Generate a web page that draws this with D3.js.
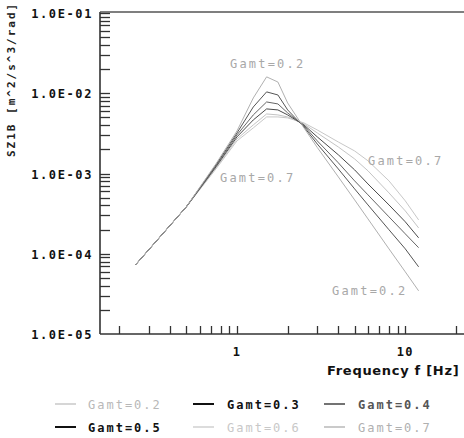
<!DOCTYPE html>
<html>
<head>
<meta charset="utf-8">
<script src="https://cdn.jsdelivr.net/npm/d3@7"></script>
<style>
  html, body { margin: 0; padding: 0; background: #fff; }
  svg { display: block; }
  .mono { font-family: "DejaVu Sans Mono", monospace; }
</style>
</head>
<body>
<svg id="chart" width="464" height="438"></svg>
<script>
const FREQS = [0.25, 0.5, 0.75, 1.0, 1.25, 1.5, 1.75, 2.0, 2.5, 3.0, 4.0, 5.0, 6.0, 8.0, 10.0, 12.0];

const G02 = [7.3e-5, 3.84e-4, 1.32e-3, 3.39e-3, 8.74e-3, 1.60e-2, 1.38e-2, 7.57e-3, 3.70e-3, 2.11e-3, 9.07e-4, 4.69e-4, 2.72e-4, 1.15e-4, 5.95e-5, 3.45e-5];
const G03 = [7.3e-5, 3.84e-4, 1.28e-3, 3.20e-3, 6.75e-3, 1.04e-2, 9.52e-3, 6.20e-3, 3.80e-3, 2.33e-3, 1.14e-3, 6.43e-4, 4.06e-4, 1.99e-4, 1.15e-4, 6.87e-5];
const G04 = [7.3e-5, 3.84e-4, 1.24e-3, 3.03e-3, 5.37e-3, 7.79e-3, 7.36e-3, 5.69e-3, 3.92e-3, 2.55e-3, 1.36e-3, 8.09e-4, 5.42e-4, 2.88e-4, 1.77e-4, 1.19e-4];
const G05 = [7.3e-5, 3.84e-4, 1.21e-3, 2.86e-3, 4.65e-3, 6.38e-3, 6.20e-3, 5.37e-3, 4.03e-3, 2.86e-3, 1.71e-3, 1.11e-3, 7.41e-4, 4.06e-4, 2.50e-4, 1.58e-4];
const G06 = [7.3e-5, 3.84e-4, 1.17e-3, 2.70e-3, 4.03e-3, 5.52e-3, 5.37e-3, 5.07e-3, 4.15e-3, 3.20e-3, 2.14e-3, 1.52e-3, 1.08e-3, 5.73e-4, 3.42e-4, 2.10e-4];
const G07 = [7.3e-5, 3.84e-4, 1.14e-3, 2.55e-3, 3.70e-3, 5.07e-3, 5.07e-3, 4.93e-3, 4.27e-3, 3.49e-3, 2.47e-3, 1.91e-3, 1.44e-3, 8.09e-4, 4.56e-4, 2.64e-4];

const SERIES_NAMES = ["Gamt=0.2", "Gamt=0.3", "Gamt=0.4", "Gamt=0.5", "Gamt=0.6", "Gamt=0.7"];
const SERIES_VALUES = [G02, G03, G04, G05, G06, G07];
const LINE_COLORS = ["#b0b0b0", "#555555", "#666666", "#4a4a4a", "#c4c4c4", "#c8c8c8"];
const LEGEND_TEXT_COLORS = ["#b8b8b8", "#111111", "#555555", "#111111", "#c8c8c8", "#b0b0b0"];
const LEGEND_LINE_COLORS = ["#c8c8c8", "#111111", "#444444", "#111111", "#d0d0d0", "#b8b8b8"];

const Y_LABELS = ["1.0E-05", "1.0E-04", "1.0E-03", "1.0E-02", "1.0E-01"];
const Y_MAJOR = [1e-5, 1e-4, 1e-3, 1e-2, 1e-1];
const X_LABELS = [{ v: 1, t: "1" }, { v: 10, t: "10" }];

const svg = d3.select("#chart");
const plotLeft = 100, plotTop = 13, plotBottom = 334;

const x = d3.scaleLog().domain([0.1535, 30]).range([plotLeft, 485.6]);
const y = d3.scaleLog().domain([1e-5, 1e-1]).range([plotBottom, plotTop]);

// minor ticks on y (inward, to the right)
const yTicks = [];
for (let d = -5; d < -1; d++) {
  for (let m = 1; m <= 9; m++) {
    if (d === -5 && m === 1) continue;
    yTicks.push(m * Math.pow(10, d));
  }
}
yTicks.push(1e-1);

svg.append("g").selectAll("line")
  .data(yTicks)
  .join("line")
  .attr("x1", plotLeft).attr("x2", plotLeft + 10)
  .attr("y1", d => Math.round(y(d)) + 0.5).attr("y2", d => Math.round(y(d)) + 0.5)
  .attr("stroke", "#333").attr("stroke-width", 1.3);

const xTicks = [0.2, 0.3, 0.4, 0.5, 0.6, 0.7, 0.8, 0.9, 1, 2, 3, 4, 5, 6, 7, 8, 9, 10, 20];
svg.append("g").selectAll("line")
  .data(xTicks)
  .join("line")
  .attr("x1", d => Math.round(x(d)) + 0.5).attr("x2", d => Math.round(x(d)) + 0.5)
  .attr("y1", plotBottom).attr("y2", plotBottom - 8)
  .attr("stroke", "#333").attr("stroke-width", 1.3);

// frame lines
svg.append("line").attr("x1", plotLeft).attr("x2", 464).attr("y1", plotBottom).attr("y2", plotBottom)
  .attr("stroke", "#333").attr("stroke-width", 1.6);
svg.append("line").attr("x1", plotLeft).attr("x2", plotLeft).attr("y1", plotTop - 1).attr("y2", plotBottom)
  .attr("stroke", "#333").attr("stroke-width", 1.6);
svg.append("line").attr("x1", plotLeft).attr("x2", 464).attr("y1", plotTop - 1).attr("y2", plotTop - 1)
  .attr("stroke", "#555").attr("stroke-width", 1.6);

// y labels
svg.append("g").selectAll("text")
  .data(Y_MAJOR)
  .join("text")
  .attr("class", "mono")
  .attr("x", 93).attr("y", d => y(d) + 5)
  .attr("text-anchor", "end")
  .attr("font-size", 12).attr("font-weight", "bold")
  .attr("letter-spacing", 1.6)
  .attr("fill", "#111")
  .text((d, i) => Y_LABELS[i]);

// x labels
svg.append("g").selectAll("text")
  .data(X_LABELS)
  .join("text")
  .attr("class", "mono")
  .attr("x", d => x(d.v)).attr("y", 356)
  .attr("text-anchor", "middle")
  .attr("font-size", 12).attr("font-weight", "bold")
  .attr("letter-spacing", 1.2)
  .attr("fill", "#111")
  .text(d => d.t);

svg.append("text")
  .attr("x", 327).attr("y", 375)
  .attr("font-family", "DejaVu Sans, sans-serif")
  .attr("font-size", 13).attr("font-weight", "bold")
  .attr("letter-spacing", 0.7)
  .attr("fill", "#111")
  .text("Frequency f [Hz]");

svg.append("text")
  .attr("class", "mono")
  .attr("transform", "translate(15,157) rotate(-90)")
  .attr("font-size", 11).attr("font-weight", "bold")
  .attr("letter-spacing", 2)
  .attr("fill", "#222")
  .text("SZ1B [m^2/s^3/rad]");

// series
const line = d3.line()
  .x(d => x(d.f))
  .y(d => y(d.v));

svg.append("g").selectAll("path")
  .data(SERIES_VALUES.map((vals, i) => ({ i, pts: vals.map((v, k) => ({ f: FREQS[k], v })) })).reverse())
  .join("path")
  .attr("d", d => line(d.pts))
  .attr("fill", "none")
  .attr("stroke", d => LINE_COLORS[d.i])
  .attr("stroke-width", 1);

// in-plot annotations
const notes = [
  { t: "Gamt=0.2", x: 230, y: 68 },
  { t: "Gamt=0.7", x: 220, y: 182 },
  { t: "Gamt=0.7", x: 368, y: 165 },
  { t: "Gamt=0.2", x: 332, y: 295 }
];
svg.append("g").selectAll("text")
  .data(notes)
  .join("text")
  .attr("class", "mono")
  .attr("x", d => d.x).attr("y", d => d.y)
  .attr("font-size", 12)
  .attr("letter-spacing", 2.2)
  .attr("fill", "#a8a8a8")
  .text(d => d.t);

// legend
const legendCols = [55, 193, 324];
const legendRows = [404, 427];
const leg = svg.append("g").selectAll("g")
  .data(SERIES_NAMES)
  .join("g")
  .attr("transform", (d, i) => `translate(${legendCols[i % 3]},${legendRows[Math.floor(i / 3)]})`);
leg.append("line")
  .attr("x1", 0).attr("x2", 21).attr("y1", 0).attr("y2", 0)
  .attr("stroke", (d, i) => LEGEND_LINE_COLORS[i])
  .attr("stroke-width", (d, i) => (i === 1 || i === 3) ? 2 : 1.5);
leg.append("text")
  .attr("class", "mono")
  .attr("x", (d, i) => i % 3 === 0 ? 33 : 34)
  .attr("y", 5)
  .attr("font-size", 12)
  .attr("font-weight", (d, i) => (i === 1 || i === 2 || i === 3) ? "bold" : "normal")
  .attr("letter-spacing", 2)
  .attr("fill", (d, i) => LEGEND_TEXT_COLORS[i])
  .text(d => d);
</script>
</body>
</html>
